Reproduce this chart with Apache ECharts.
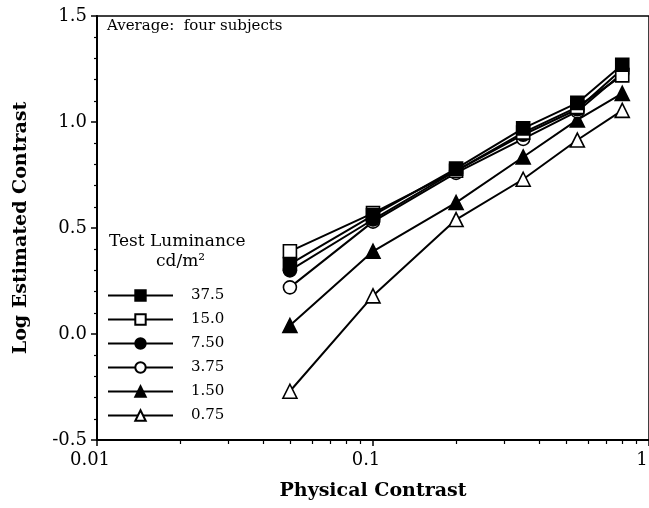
<!DOCTYPE html>
<html><head><meta charset="utf-8">
<script src="https://cdn.jsdelivr.net/npm/echarts@6/dist/echarts.min.js"></script>
<style>html,body{margin:0;padding:0;background:#fff}#c{width:649px;height:508px}</style>
</head><body><div id="c"></div>
<script>
const contrasts = [0.05, 0.1, 0.2, 0.35, 0.55, 0.8];
const lum375 = [0.33, 0.56, 0.78, 0.97, 1.09, 1.27];
const lum150 = [0.39, 0.57, 0.77, 0.95, 1.07, 1.22];
const lum750 = [0.30, 0.54, 0.77, 0.94, 1.06, 1.25];
const lum375b = [0.22, 0.53, 0.76, 0.92, 1.05, 1.23];
const lum15 = [0.04, 0.39, 0.62, 0.835, 1.01, 1.135];
const lum075 = [-0.27, 0.18, 0.54, 0.73, 0.915, 1.055];
const seriesNames = ['37.5', '15.0', '7.50', '3.75', '1.50', '0.75'];
const xMinorTicks = [0.02,0.03,0.04,0.05,0.06,0.07,0.08,0.09,0.2,0.3,0.4,0.5,0.6,0.7,0.8,0.9];
const xMajorTicks = [0.01, 0.1, 1];

const F = '"DejaVu Serif", "Liberation Serif", serif';
const pairs = a => contrasts.map((x, i) => [x, a[i]]);
function mk(name, vals, symbol, filled) {
  return {
    name, type: 'line', data: pairs(vals), symbol, symbolSize: symbol === 'triangle' ? 14 : 13,
    lineStyle: { color: '#000', width: 2 },
    itemStyle: { color: filled ? '#000' : '#fff', borderColor: '#000', borderWidth: 1.6 },
    emphasis: { disabled: true }, animation: false
  };
}
const series = [
  mk('0.75', lum075, 'triangle', false),
  mk('1.50', lum15, 'triangle', true),
  mk('3.75', lum375b, 'circle', false),
  mk('7.50', lum750, 'circle', true),
  mk('15.0', lum150, 'rect', false),
  mk('37.5', lum375, 'rect', true)
];
const chart = echarts.init(document.getElementById('c'), null, { renderer: 'canvas' });
chart.setOption({
  animation: false,
  grid: { left: 97, right: 0, top: 16, bottom: 68, show: true, borderColor: '#000', borderWidth: 1.5,
          backgroundColor: 'transparent', containLabel: false, outerBoundsMode: 'none' },
  xAxis: [{
    type: 'log', min: 0.01, max: 1, logBase: 10,
    name: 'Physical Contrast', nameLocation: 'middle', nameGap: 42,
    nameTextStyle: { fontFamily: F, fontWeight: 'bold', fontSize: 19, color: '#000' },
    axisLine: { onZero: false, lineStyle: { color: '#000', width: 2 } },
    axisTick: { show: true, length: 6, inside: false, customValues: xMajorTicks, lineStyle: { color: '#000', width: 1.5 } },
    axisLabel: { customValues: xMajorTicks, formatter: v => String(+v.toPrecision(3)), fontFamily: F, fontSize: 18, color: '#000', margin: 11, hideOverlap: false, padding: [0, 14, 0, 0] },
    splitLine: { show: false }
  }, {
    type: 'log', min: 0.01, max: 1, logBase: 10, position: 'bottom', gridIndex: 0,
    axisLine: { show: false, onZero: false },
    axisTick: { show: true, length: 4, customValues: xMinorTicks, lineStyle: { color: '#000', width: 1.2 } },
    axisLabel: { show: false }, splitLine: { show: false }
  }],
  yAxis: {
    type: 'value', min: -0.5, max: 1.5, interval: 0.5,
    name: 'Log Estimated Contrast', nameLocation: 'middle', nameGap: 66, nameRotate: 90,
    nameTextStyle: { fontFamily: F, fontWeight: 'bold', fontSize: 19, color: '#000' },
    axisLine: { show: true, onZero: false, lineStyle: { color: '#000', width: 2 } },
    axisTick: { show: true, length: 6, lineStyle: { color: '#000', width: 1.5 } },
    minorTick: { show: true, splitNumber: 5, length: 3, lineStyle: { color: '#000', width: 1.2 } },
    axisLabel: { formatter: v => v.toFixed(1), fontFamily: F, fontSize: 18, color: '#000', margin: 10 },
    splitLine: { show: false }
  },
  legend: {
    data: seriesNames, orient: 'vertical', left: 102, top: 283,
    itemWidth: 65, itemHeight: 13, itemGap: 9,
    textStyle: { fontFamily: F, fontSize: 15, lineHeight: 14, color: '#000', padding: [0, 0, 0, 13] },
    selectedMode: false
  },
  graphic: [
    { type: 'text', left: 107, top: 19, style: { text: 'Average:  four subjects', font: '15px ' + F, fill: '#000' } },
    { type: 'text', left: 109, top: 233, style: { text: 'Test Luminance', font: '17px ' + F, fill: '#000' } },
    { type: 'text', left: 156, top: 253, style: { text: 'cd/m²', font: '17px ' + F, fill: '#000' } }
  ],
  series
});
</script></body></html>
